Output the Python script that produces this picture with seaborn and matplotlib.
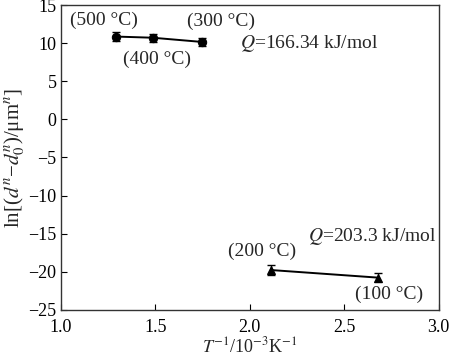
import numpy as np
import pandas as pd
import matplotlib
matplotlib.use("Agg")
import matplotlib.pyplot as plt
import seaborn as sns

# high temperature group (500, 400, 300 C)
hi_x = [1.294, 1.486, 1.745]
hi_y = [10.9, 10.75, 10.2]
hi_err = [0.55, 0.55, 0.5]
hi_labels = ["(500 °C)", "(400 °C)", "(300 °C)"]

# low temperature group (200, 100 C)
lo_x = [2.114, 2.681]
lo_y = [-19.8, -20.8]
lo_err = [0.7, 0.6]
lo_labels = ["(200 °C)", "(100 °C)"]

q_labels = ["$Q$=166.34 kJ/mol", "$Q$=203.3 kJ/mol"]

sns.set_style("ticks")
plt.rcParams["font.family"] = ["Liberation Serif", "DejaVu Serif"]
plt.rcParams["mathtext.fontset"] = "stix"
plt.rcParams["xtick.direction"] = "in"
plt.rcParams["ytick.direction"] = "in"

hi = pd.DataFrame({"x": hi_x, "y": hi_y})
lo = pd.DataFrame({"x": lo_x, "y": lo_y})

fig, ax = plt.subplots(figsize=(4.5, 3.6), dpi=100)

sns.lineplot(data=hi, x="x", y="y", ax=ax, color="black", marker="o",
             markersize=6, linewidth=1.4, markeredgecolor="black")
ax.errorbar(hi_x, hi_y, yerr=hi_err, fmt="none", ecolor="black",
            elinewidth=1, capsize=3)
sns.lineplot(data=lo, x="x", y="y", ax=ax, color="black", marker="^",
             markersize=6, linewidth=1.4, markeredgecolor="black")
ax.errorbar(lo_x, lo_y, yerr=lo_err, fmt="none", ecolor="black",
            elinewidth=1, capsize=3)

fs = 14
ax.text(1.227, 13.1, hi_labels[0], ha="center", va="center", fontsize=fs)
ax.text(1.51, 7.85, hi_labels[1], ha="center", va="center", fontsize=fs)
ax.text(1.85, 12.9, hi_labels[2], ha="center", va="center", fontsize=fs)
ax.text(1.95, 10.0, q_labels[0], ha="left", va="center", fontsize=fs)
ax.text(2.066, -17.3, lo_labels[0], ha="center", va="center", fontsize=fs)
ax.text(2.736, -23.0, lo_labels[1], ha="center", va="center", fontsize=fs)
ax.text(2.31, -15.4, q_labels[1], ha="left", va="center", fontsize=fs)

ax.set_xlim(1.0, 3.0)
ax.set_ylim(-25, 15)
ax.set_xticks([1.0, 1.5, 2.0, 2.5, 3.0])
ax.set_yticks(range(-25, 16, 5))
ax.set_yticklabels([str(v).replace("-", "\u2212") for v in range(-25, 16, 5)])
ax.set_xticklabels(["1.0", "1.5", "2.0", "2.5", "3.0"])
ax.tick_params(labelsize=13, length=4, width=0.8, colors="black", pad=3)
ax.tick_params(axis="x", pad=7)
for s in ax.spines.values():
    s.set_linewidth(1.0)
    s.set_color("#333333")

ax.set_xlabel("$T^{-1}$/10$^{-3}$K$^{-1}$", fontsize=13, labelpad=0)
ax.set_ylabel("ln[($d^n$\u2212$d_0^n$)/μm$^n$]", fontsize=15, labelpad=1)

fig.subplots_adjust(left=0.135, right=0.975, top=0.985, bottom=0.14)
fig.savefig("out.png", dpi=100)
